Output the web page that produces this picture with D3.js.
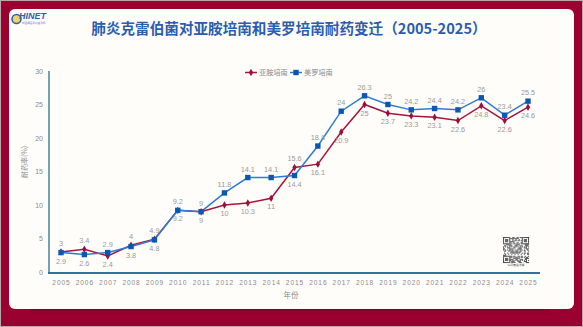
<!DOCTYPE html>
<html><head><meta charset="utf-8">
<script src="https://cdn.jsdelivr.net/npm/d3@7"></script>
<style>
html,body{margin:0;padding:0;background:#9a0030;}
svg{display:block;font-family:"Noto Sans CJK SC","Noto Sans",sans-serif;}
</style></head>
<body>
<script>
const years = ["2005","2006","2007","2008","2009","2010","2011","2012","2013","2014","2015","2016","2017","2018","2019","2020","2021","2022","2023","2024","2025"];
const imipenem = [3,3.4,2.4,4,4.9,9.2,9,10,10.3,11,15.6,16.1,20.9,25,23.7,23.3,23.1,22.6,24.8,22.6,24.6];
const meropenem = [2.9,2.6,2.9,3.8,4.8,9.2,9,11.8,14.1,14.1,14.4,18.8,24,26.3,25,24.2,24.4,24.2,26,23.4,25.5];
const seriesNames = ["亚胺培南","美罗培南"];
const yTicks = [0,5,10,15,20,25,30];
const titleText = "肺炎克雷伯菌对亚胺培南和美罗培南耐药变迁（2005-2025）";
const xTitle = "年份";
const yTitle = "耐药率(%)";

const W=583,H=327;
const svg=d3.select("body").append("svg").attr("width",W).attr("height",H);
const defs=svg.append("defs");
const lg=defs.append("linearGradient").attr("id","sh").attr("x1",0).attr("y1",0).attr("x2",0).attr("y2",1);
lg.append("stop").attr("offset","0").attr("stop-color","#6a0020").attr("stop-opacity",0.55);
lg.append("stop").attr("offset","1").attr("stop-color","#9a0030").attr("stop-opacity",0);

// background
svg.append("rect").attr("width",W).attr("height",H).attr("fill","#9a0030");
svg.append("rect").attr("x",0.5).attr("y",0.5).attr("width",W-1).attr("height",H-1).attr("fill","none").attr("stroke","#b9a9ad").attr("stroke-width",1);
svg.append("rect").attr("x",30).attr("y",309).attr("width",520).attr("height",7).attr("fill","url(#sh)");
svg.append("rect").attr("x",9).attr("y",9).attr("width",565).attr("height",300).attr("rx",6).attr("fill","#fffdf9");

// logo
const logo=svg.append("g");
logo.append("circle").attr("cx",16.5).attr("cy",19).attr("r",4.5).attr("fill","#f2d36b").attr("stroke","#2d63b3").attr("stroke-width",1.6);
logo.append("text").attr("x",19).attr("y",19).attr("font-size",9).attr("font-weight","bold").attr("font-style","italic").attr("fill","#2d63b3").attr("font-family","Liberation Sans, Arial, sans-serif").text("HINET");
logo.append("text").attr("x",22).attr("y",23.5).attr("font-size",2.6).attr("fill","#5a7fb8").text("中国细菌耐药监测网");

// title
svg.append("text").attr("x",289).attr("y",34).attr("text-anchor","middle").attr("font-size",14.6).attr("font-weight","bold").attr("fill","#2a5db0").text(titleText);

const x=d3.scalePoint().domain(years).range([61,528]);
const y=d3.scaleLinear().domain([0,30]).range([272,71]);

// axes
const gy=svg.append("g").attr("transform","translate(49,0)").call(d3.axisLeft(y).tickValues(yTicks).tickSize(0).tickPadding(6));
gy.select(".domain").attr("stroke","#2f6f8f").attr("stroke-width",1.3).attr("d","M0,"+y(30)+"V"+(y(0)+1));
gy.selectAll("text").attr("font-size",7).attr("fill","#8c8c8c").attr("font-family","Liberation Sans, Arial, sans-serif");

const gx=svg.append("g").attr("transform","translate(0,273)").call(d3.axisBottom(x).tickSize(0).tickPadding(7));
gx.select(".domain").attr("stroke","#2f7396").attr("stroke-width",2).attr("d","M48,0H540");
gx.selectAll("text").attr("font-size",6.6).attr("fill","#8c8c8c").attr("letter-spacing",0.9).attr("font-family","Liberation Sans, Arial, sans-serif");

svg.append("text").attr("x",291).attr("y",298).attr("text-anchor","middle").attr("font-size",7.5).attr("fill","#8a8a8a").text(xTitle);
svg.append("text").attr("transform","translate(27,162) rotate(-90)").attr("text-anchor","middle").attr("font-size",7).attr("fill","#8a8a8a").text(yTitle);

const colors=["#a3153f","#2e7bd1"];
const markColors=["#9c0f3a","#0b57b3"];
const data=[imipenem,meropenem];
const line=d3.line().x((d,i)=>x(years[i])).y(d=>y(d));

data.forEach((vals,s)=>{
  svg.append("path").datum(vals).attr("d",line).attr("fill","none").attr("stroke",colors[s]).attr("stroke-width",1.5);
});
// markers
svg.append("g").selectAll("path").data(imipenem).join("path")
  .attr("transform",(d,i)=>`translate(${x(years[i])},${y(d)})`)
  .attr("d",d3.symbol(d3.symbolDiamond,16)).attr("fill",markColors[0]);
svg.append("g").selectAll("rect").data(meropenem).join("rect")
  .attr("x",(d,i)=>x(years[i])-2.7).attr("y",d=>y(d)-2.7).attr("width",5.4).attr("height",5.4).attr("fill",markColors[1]);

// labels
const lab=svg.append("g").attr("font-size",7.3).attr("fill","#9a9a9a").attr("text-anchor","middle").attr("font-family","Liberation Sans, Arial, sans-serif");
years.forEach((yr,i)=>{
  const a=imipenem[i], b=meropenem[i];
  const redAbove = a>b;
  const blueAbove = b>=a;
  lab.append("text").attr("x",x(yr)).attr("y",redAbove? y(a)-6 : y(a)+11).text(a);
  lab.append("text").attr("x",x(yr)).attr("y",blueAbove? y(b)-6 : y(b)+11).text(b);
});

// legend
const leg=svg.append("g").attr("transform","translate(245,72.5)");
leg.append("line").attr("x1",0).attr("x2",12).attr("stroke",colors[0]).attr("stroke-width",1.5);
leg.append("path").attr("transform","translate(6,0)").attr("d",d3.symbol(d3.symbolDiamond,16)).attr("fill",markColors[0]);
leg.append("text").attr("x",14).attr("y",2.6).attr("font-size",7.2).attr("fill","#8a8a8a").text(seriesNames[0]);
leg.append("line").attr("x1",45).attr("x2",57).attr("stroke",colors[1]).attr("stroke-width",1.5);
leg.append("rect").attr("x",48.3).attr("y",-2.7).attr("width",5.4).attr("height",5.4).attr("fill",markColors[1]);
leg.append("text").attr("x",59).attr("y",2.6).attr("font-size",7.2).attr("fill","#8a8a8a").text(seriesNames[1]);

// QR code (decorative, deterministic pattern)
const qr=svg.append("g").attr("transform","translate(503,237)");
qr.append("rect").attr("width",26).attr("height",26).attr("fill","#ffffff");
const n=25, cs=26/n;
const cells=[];
for(let r=0;r<n;r++)for(let c=0;c<n;c++){
  const h=((r*73+c*151+r*c*37+11)%97);
  let on=h%2===0;
  const f=[[0,0],[0,n-7],[n-7,0]];
  f.forEach(([fr,fc])=>{const rr=r-fr,cc=c-fc;if(rr>=0&&rr<7&&cc>=0&&cc<7){on=(rr===0||rr===6||cc===0||cc===6||(rr>=2&&rr<=4&&cc>=2&&cc<=4));}});
  if(on)cells.push([r,c]);
}
qr.selectAll("rect.c").data(cells).join("rect").attr("class","c").attr("x",d=>d[1]*cs).attr("y",d=>d[0]*cs).attr("width",cs+0.05).attr("height",cs+0.05).attr("fill","#4a4a4a");
svg.append("text").attr("x",516).attr("y",266).attr("text-anchor","middle").attr("font-size",2.8).attr("fill","#555").text("扫码查看详情");
</script>
</body></html>
